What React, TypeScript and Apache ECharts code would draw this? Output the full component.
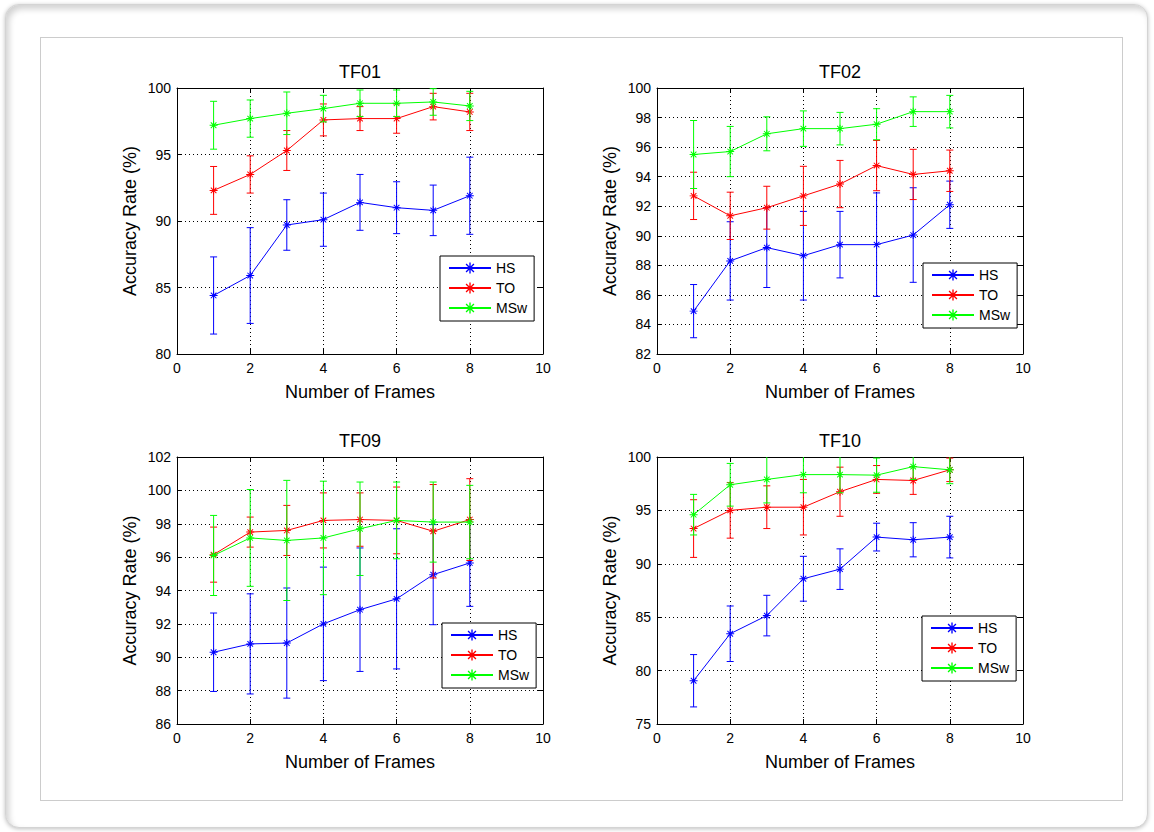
import React, { useEffect, useRef } from 'react';
import * as echarts from 'echarts';

// x positions shared by every panel
const frames = [1, 2, 3, 4, 5, 6, 7, 8];
const seriesNames = ['HS', 'TO', 'MSw'];
const seriesColors = ['#0000ff', '#ff0000', '#00ff00'];
const xTicks = { min: 0, max: 10, interval: 2 };

// TF01
const hs01 = [84.4, 85.9, 89.7, 90.1, 91.4, 91.0, 90.8, 91.9];
const hs01Err = [2.9, 3.6, 1.9, 2.0, 2.1, 1.95, 1.9, 2.9];
const to01 = [92.3, 93.5, 95.3, 97.6, 97.7, 97.7, 98.6, 98.2];
const to01Err = [1.8, 1.4, 1.5, 1.2, 0.9, 1.1, 1.0, 1.4];
const msw01 = [97.2, 97.7, 98.1, 98.45, 98.85, 98.85, 98.95, 98.65];
const msw01Err = [1.8, 1.4, 1.6, 1.0, 1.0, 1.0, 1.0, 1.1];

// TF02
const hs02 = [84.9, 88.3, 89.2, 88.65, 89.4, 89.4, 90.05, 92.1];
const hs02Err = [1.8, 2.65, 2.7, 3.0, 2.25, 3.5, 3.2, 1.6];
const to02 = [92.7, 91.35, 91.9, 92.7, 93.5, 94.75, 94.15, 94.4];
const to02Err = [1.6, 1.6, 1.45, 2.0, 1.6, 1.7, 1.7, 1.4];
const msw02 = [95.5, 95.7, 96.9, 97.25, 97.25, 97.55, 98.4, 98.4];
const msw02Err = [2.3, 1.7, 1.15, 1.2, 1.1, 1.05, 1.0, 1.1];

// TF09
const hs09 = [90.3, 90.8, 90.85, 92.0, 92.85, 93.5, 94.95, 95.65];
const hs09Err = [2.35, 3.0, 3.3, 3.4, 3.7, 4.2, 3.0, 2.6];
const to09 = [96.15, 97.5, 97.6, 98.2, 98.25, 98.2, 97.55, 98.25];
const to09Err = [1.65, 0.9, 1.5, 1.65, 1.6, 2.0, 2.8, 2.45];
const msw09 = [96.1, 97.15, 97.0, 97.15, 97.7, 98.2, 98.1, 98.1];
const msw09Err = [2.4, 2.9, 3.6, 3.4, 2.8, 2.3, 2.4, 2.2];

// TF10
const hs10 = [79.05, 83.45, 85.15, 88.6, 89.5, 92.5, 92.25, 92.5];
const hs10Err = [2.45, 2.6, 1.9, 2.1, 1.9, 1.3, 1.6, 1.95];
const to10 = [93.3, 95.0, 95.3, 95.3, 96.75, 97.9, 97.8, 98.8];
const to10Err = [2.7, 2.6, 2.0, 2.6, 2.3, 1.3, 1.3, 1.1];
const msw10 = [94.6, 97.4, 97.9, 98.35, 98.35, 98.3, 99.1, 98.8];
const msw10Err = [1.9, 2.0, 2.2, 1.7, 1.7, 1.6, 1.2, 1.3];

const panelTitles = ['TF01', 'TF02', 'TF09', 'TF10'];
const yRanges = [
  { min: 80, max: 100, interval: 5 },
  { min: 82, max: 100, interval: 2 },
  { min: 86, max: 102, interval: 2 },
  { min: 75, max: 100, interval: 5 },
];
const panelValues = [
  [[hs01, hs01Err], [to01, to01Err], [msw01, msw01Err]],
  [[hs02, hs02Err], [to02, to02Err], [msw02, msw02Err]],
  [[hs09, hs09Err], [to09, to09Err], [msw09, msw09Err]],
  [[hs10, hs10Err], [to10, to10Err], [msw10, msw10Err]],
];

// layout of the four plot boxes and their legends (pixels)
const gridBoxes = [
  { left: 177, top: 88, width: 366, height: 266 },
  { left: 657, top: 88, width: 366, height: 266 },
  { left: 177, top: 457, width: 366, height: 267 },
  { left: 657, top: 457, width: 366, height: 267 },
];
const legendBoxes = [
  { left: 440, top: 256 },
  { left: 923, top: 263 },
  { left: 442, top: 623 },
  { left: 922, top: 616 },
];

const FONT = '"Liberation Sans", Arial, Helvetica, sans-serif';

// asterisk marker: four thin bars crossing at the centre
const STAR =
  'path://M-10,-1.2L10,-1.2L10,1.2L-10,1.2Z' +
  'M-1.2,-10L1.2,-10L1.2,10L-1.2,10Z' +
  'M-6.15,-7.85L7.85,6.15L6.15,7.85L-7.85,-6.15Z' +
  'M-7.85,6.15L6.15,-7.85L7.85,-6.15L-6.15,7.85Z';

function errorBarRenderer(color: string) {
  return (params: any, api: any) => {
    const x = api.value(0);
    const y = api.value(1);
    const e = api.value(2);
    const hi = api.coord([x, y + e]);
    const lo = api.coord([x, y - e]);
    const w = 3.5;
    const style = { stroke: color, lineWidth: 1 };
    return {
      type: 'group',
      children: [
        { type: 'line', shape: { x1: hi[0], y1: hi[1], x2: lo[0], y2: lo[1] }, style },
        { type: 'line', shape: { x1: hi[0] - w, y1: hi[1], x2: hi[0] + w, y2: hi[1] }, style },
        { type: 'line', shape: { x1: lo[0] - w, y1: lo[1], x2: lo[0] + w, y2: lo[1] }, style },
      ],
    };
  };
}

function buildOption() {
  const grid: any[] = [];
  const xAxis: any[] = [];
  const yAxis: any[] = [];
  const series: any[] = [];
  const legend: any[] = [];
  const graphic: any[] = [];

  const tickStyle = { show: true, inside: true, length: 5, lineStyle: { color: '#000', width: 1 } };
  const lineStyle = { show: true, onZero: false, lineStyle: { color: '#000', width: 1 } };
  const splitStyle = { show: true, lineStyle: { color: '#000', width: 1, type: [1, 3] } };
  const labelStyle = { color: '#000', fontSize: 14, fontFamily: FONT };
  const nameStyle = { color: '#000', fontSize: 18, fontFamily: FONT };

  gridBoxes.forEach((box, i) => {
    grid.push({ ...box });
    const yr = yRanges[i];

    xAxis.push({
      gridIndex: i, type: 'value', position: 'bottom', ...xTicks,
      axisLine: lineStyle, axisTick: tickStyle,
      axisLabel: { ...labelStyle, margin: 7 },
      splitLine: splitStyle,
      name: 'Number of Frames', nameLocation: 'middle', nameGap: 29, nameTextStyle: nameStyle,
    });
    xAxis.push({
      gridIndex: i, type: 'value', position: 'top', ...xTicks,
      axisLine: lineStyle, axisTick: tickStyle,
      axisLabel: { show: false }, splitLine: { show: false },
    });
    yAxis.push({
      gridIndex: i, type: 'value', position: 'left', ...yr,
      axisLine: lineStyle, axisTick: tickStyle,
      axisLabel: { ...labelStyle, margin: 6 },
      splitLine: splitStyle,
      name: 'Accuracy Rate (%)', nameLocation: 'middle', nameGap: 38, nameTextStyle: nameStyle,
    });
    yAxis.push({
      gridIndex: i, type: 'value', position: 'right', ...yr,
      axisLine: lineStyle, axisTick: tickStyle,
      axisLabel: { show: false }, splitLine: { show: false },
    });

    panelValues[i].forEach(([vals, errs], k) => {
      const color = seriesColors[k];
      series.push({
        type: 'custom',
        name: seriesNames[k] + ' error',
        xAxisIndex: 2 * i,
        yAxisIndex: 2 * i,
        clip: true,
        silent: true,
        z: 3 + 2 * k,
        renderItem: errorBarRenderer(color),
        data: frames.map((f, j) => [f, vals[j], errs[j]]),
      });
      series.push({
        type: 'line',
        name: seriesNames[k],
        xAxisIndex: 2 * i,
        yAxisIndex: 2 * i,
        clip: true,
        silent: true,
        z: 4 + 2 * k,
        symbol: STAR,
        symbolSize: 8,
        showSymbol: true,
        lineStyle: { color, width: 1 },
        itemStyle: { color },
        emphasis: { disabled: true },
        data: frames.map((f, j) => [f, vals[j]]),
      });
    });

    legend.push({
      orient: 'vertical',
      left: legendBoxes[i].left,
      top: legendBoxes[i].top,
      data: seriesNames,
      selectedMode: false,
      itemWidth: 42,
      itemHeight: 14,
      itemGap: 6,
      padding: [5, 7, 6, 8],
      backgroundColor: '#fff',
      borderColor: '#000',
      borderWidth: 1,
      borderRadius: 0,
      textStyle: { color: '#000', fontSize: 14, fontFamily: FONT },
      z: 20,
    });

    graphic.push({
      type: 'text',
      x: box.left + box.width / 2,
      y: box.top - 16,
      style: {
        text: panelTitles[i],
        align: 'center',
        verticalAlign: 'middle',
        fontSize: 18,
        fontFamily: FONT,
        fill: '#000',
      },
    });
  });

  return {
    animation: false,
    backgroundColor: 'transparent',
    textStyle: { fontFamily: FONT },
    grid,
    xAxis,
    yAxis,
    legend,
    graphic,
    series,
  };
}

export default function App() {
  const ref = useRef<HTMLDivElement>(null);

  useEffect(() => {
    if (!ref.current) return;
    const chart = echarts.init(ref.current, null, { renderer: 'svg' });
    chart.setOption(buildOption() as any);
    return () => chart.dispose();
  }, []);

  return (
    <div style={{ position: 'absolute', left: 0, top: 0, width: 1154, height: 832, background: '#fff' }}>
      <div
        style={{
          position: 'absolute', left: 5, top: 4, width: 1141, height: 822,
          borderRadius: 14, background: '#fff', border: '1px solid #d4d4d4',
          boxShadow: 'inset 3px 4px 6px rgba(0,0,0,0.18), 0 1px 4px rgba(0,0,0,0.25)',
        }}
      />
      <div
        style={{
          position: 'absolute', left: 40, top: 37, width: 1081, height: 762,
          border: '1.5px solid #cccccc', background: '#fff',
        }}
      />
      <div ref={ref} style={{ position: 'absolute', left: 0, top: 0, width: 1154, height: 832 }} />
    </div>
  );
}
